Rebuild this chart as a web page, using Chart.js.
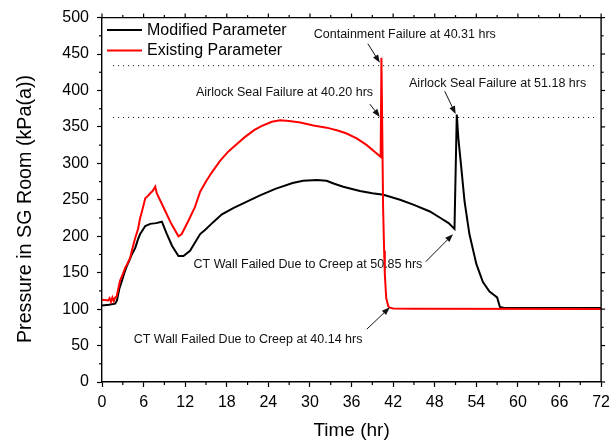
<!DOCTYPE html>
<html><head><meta charset="utf-8">
<script src="https://cdn.jsdelivr.net/npm/chart.js@4.4.1/dist/chart.umd.min.js"></script>
<style>html,body{margin:0;padding:0;background:#fff}</style>
</head><body>
<canvas id="c" width="616" height="444"></canvas>
<script>
// ---- data ----
const seriesNames = ['Modified Parameter', 'Existing Parameter'];

const modifiedTime = [0,1.0,1.9,2.16,2.5,2.88,3.2,3.6,4.0,4.3,4.8,5.2,5.5,5.9,6.24,6.96,7.8,8.64,9.36,10.1,11.03,11.75,12.7,13.4,14.16,14.9,16,17.3,19,20.6,22.8,25,27.5,29.0,31,32.4,33.5,34.8,37.2,39,40.6,43,45,47.3,49,50.0,50.85,51.18,51.4,51.84,52.3,53.0,54.0,54.95,55.9,56.6,57.0,57.4,58,65,72];
const modifiedPressure = [105,106,107.5,112,128,139,149,159.5,168,175,184,196,203,209,214,217,218,220,203,187,173,173,180,191,203,209,219,230,239,246,256,265,273,276,277,276,272,268,262,259,257,250,243,234,224,218,210,367,335,293,248,203,162,137,124,119,116,103,101.5,101.5,101.5];

const existingTime = [0,0.9,1.1,1.3,1.5,1.7,1.9,2.1,2.6,3.0,3.36,3.7,4.08,4.3,4.55,4.8,5.2,5.5,5.76,6.0,6.24,6.6,6.96,7.3,7.68,7.9,9.0,10.0,11.03,11.5,12.5,13.4,14.16,15.0,15.8,17.0,18.2,19.5,20.6,22.0,23.0,24.5,25.7,27.0,28.6,30.5,32.4,34.0,35.3,36.8,38.2,39.2,40.2,40.31,40.45,40.55,40.7,40.8,41.0,41.3,41.5,42,45,72];
const existingPressure = [113,112,115,110,116,111,116,117,139,148,157,163,171,180,189,198,210,225,234,243,252,255,259,262,268,259,237,217,200,203,222,240,261,275,287,303,316,327,336,346,351,357,359,358,356,352,349,345,341,334,325,317,309,445,330,240,180,148,115,104,102,100.8,100.5,100.3];

const limitLevels = [434, 363];      // dotted reference lines (kPa)
const limitSpan = [1.6, 71.5];       // hours covered by the dotted lines

const xTickValues = [0,6,12,18,24,30,36,42,48,54,60,66,72];
const xTickLabels = ['0','6','12','18','24','30','36','42','48','54','60','66','72'];
const yTickValues = [0,50,100,150,200,250,300,350,400,450,500];
const yTickLabels = ['0','50','100','150','200','250','300','350','400','450','500'];

const noteLabels = ['Containment Failure at 40.31 hrs','Airlock Seal Failure at 40.20 hrs','Airlock Seal Failure at 51.18 hrs','CT Wall Failed Due to Creep at 50.85 hrs','CT Wall Failed Due to Creep at 40.14 hrs'];
const noteTextX = [43.68, 26.33, 57.07, 29.71, 21.07];
const noteTextY = [476.5, 397.6, 409.8, 160.9, 58.9];
const noteFromX = [38.35, 38.64, 49.44, 46.70, 38.2];
const noteFromY = [464.2, 381.3, 398.9, 165, 72.5];
const noteToX = [40.08, 40.08, 51.02, 50.63, 41.52];
const noteToY = [438, 363.6, 367.6, 202.7, 102.4];

const xTitle = 'Time (hr)';
const yTitle = 'Pressure in SG Room (kPa(a))';

// ---- build ----
const FONT = "'Liberation Sans', Arial, sans-serif";
const toPts = (xs, ys) => xs.map((v, i) => ({x: v, y: ys[i]}));
const colors = ['#000000', '#ff0000'];

const datasets = [
  {label: seriesNames[1], data: toPts(existingTime, existingPressure), borderColor: colors[1], borderWidth: 2, pointRadius: 0, tension: 0, order: 0},
  {label: seriesNames[0], data: toPts(modifiedTime, modifiedPressure), borderColor: colors[0], borderWidth: 2, pointRadius: 0, tension: 0, order: 1},
];
limitLevels.forEach(l => datasets.push({label: 'limit', data: toPts(limitSpan, [l, l]), borderColor: '#000', borderWidth: 1, borderDash: [1, 4], pointRadius: 0, order: 2}));

const decor = {
  id: 'decor',
  afterDraw(chart) {
    const {ctx, chartArea: a, scales: {x, y}} = chart;
    ctx.save();
    ctx.strokeStyle = '#000';
    ctx.lineWidth = 1.4;
    const ln = (x1, y1, x2, y2) => { ctx.beginPath(); ctx.moveTo(x1, y1); ctx.lineTo(x2, y2); ctx.stroke(); };
    // top & right frame
    ln(a.left, a.top, a.right + 0.7, a.top);
    ln(a.right, a.top, a.right, a.bottom);
    ctx.lineWidth = 1.2;
    // minor ticks & top/right ticks
    for (let v = 0; v <= 72; v += 3) {
      const px = x.getPixelForValue(v);
      const major = v % 6 === 0;
      if (!major) ln(px, a.bottom, px, a.bottom + 3);
      ln(px, a.top, px, a.top - (major ? 4 : 2.5));
    }
    for (let v = 0; v <= 500; v += 25) {
      const py = y.getPixelForValue(v);
      const major = v % 50 === 0;
      if (!major) ln(a.left, py, a.left - 3, py);
      ln(a.right, py, a.right + (major ? 4 : 2.5), py);
    }
    // y axis title
    ctx.save();
    ctx.translate(25.5, 209);
    ctx.rotate(-Math.PI / 2);
    ctx.font = '19.7px ' + FONT;
    ctx.fillStyle = '#000';
    ctx.textAlign = 'center';
    ctx.textBaseline = 'middle';
    ctx.fillText(yTitle, 0, 0);
    ctx.restore();
    // legend
    ctx.lineWidth = 2;
    ctx.font = '16px ' + FONT;
    ctx.textBaseline = 'middle';
    ctx.textAlign = 'left';
    [0, 1].forEach(i => {
      const ly = a.top + 12.5 + i * 20.4;
      ctx.strokeStyle = colors[i];
      ln(a.left + 5, ly, a.left + 40, ly);
      ctx.fillStyle = '#000';
      ctx.fillText(seriesNames[i], a.left + 45, ly + 0.5);
    });
    // annotations
    ctx.font = '12.5px ' + FONT;
    ctx.textAlign = 'center';
    ctx.fillStyle = '#111';
    ctx.strokeStyle = '#111';
    ctx.lineWidth = 1;
    noteLabels.forEach((t, i) => {
      ctx.fillText(t, x.getPixelForValue(noteTextX[i]), y.getPixelForValue(noteTextY[i]));
      const x1 = x.getPixelForValue(noteFromX[i]), y1 = y.getPixelForValue(noteFromY[i]);
      const x2 = x.getPixelForValue(noteToX[i]), y2 = y.getPixelForValue(noteToY[i]);
      const ang = Math.atan2(y2 - y1, x2 - x1);
      const hl = 8, hw = 3;
      const bx = x2 - hl * Math.cos(ang), by = y2 - hl * Math.sin(ang);
      ln(x1, y1, bx, by);
      ctx.beginPath();
      ctx.moveTo(x2, y2);
      ctx.lineTo(bx + hw * Math.sin(ang), by - hw * Math.cos(ang));
      ctx.lineTo(bx - hw * Math.sin(ang), by + hw * Math.cos(ang));
      ctx.closePath();
      ctx.fill();
    });
    ctx.restore();
  }
};

new Chart(document.getElementById('c'), {
  type: 'line',
  data: {datasets},
  options: {
    responsive: false,
    animation: false,
    layout: {padding: {left: 0, right: 14, top: 15, bottom: 0}},
    plugins: {legend: {display: false}, tooltip: {enabled: false}},
    scales: {
      x: {
        type: 'linear', min: 0, max: 72,
        afterBuildTicks: s => { s.ticks = xTickValues.map(v => ({value: v})); },
        afterFit: s => { s.height = 62; },
        ticks: {color: '#000', font: {family: FONT, size: 16}, padding: 6, maxRotation: 0, autoSkip: false,
          callback: (v) => xTickLabels[xTickValues.indexOf(v)]},
        grid: {display: true, drawOnChartArea: false, drawTicks: true, tickLength: 5, tickColor: '#000', tickWidth: 1.2},
        border: {display: true, color: '#000', width: 1.4},
        title: {display: true, text: xTitle, color: '#000', font: {family: FONT, size: 19}, padding: {top: 0, bottom: 2}}
      },
      y: {
        type: 'linear', min: 0, max: 500,
        afterBuildTicks: s => { s.ticks = yTickValues.map(v => ({value: v})); },
        afterFit: s => { s.width = 102; },
        ticks: {color: '#000', font: {family: FONT, size: 16}, padding: 8, autoSkip: false,
          callback: (v) => yTickLabels[yTickValues.indexOf(v)]},
        grid: {display: true, drawOnChartArea: false, drawTicks: true, tickLength: 5, tickColor: '#000', tickWidth: 1.2},
        border: {display: true, color: '#000', width: 1.4},
        title: {display: false, text: yTitle}
      }
    }
  },
  plugins: [decor]
});
</script>
</body></html>
